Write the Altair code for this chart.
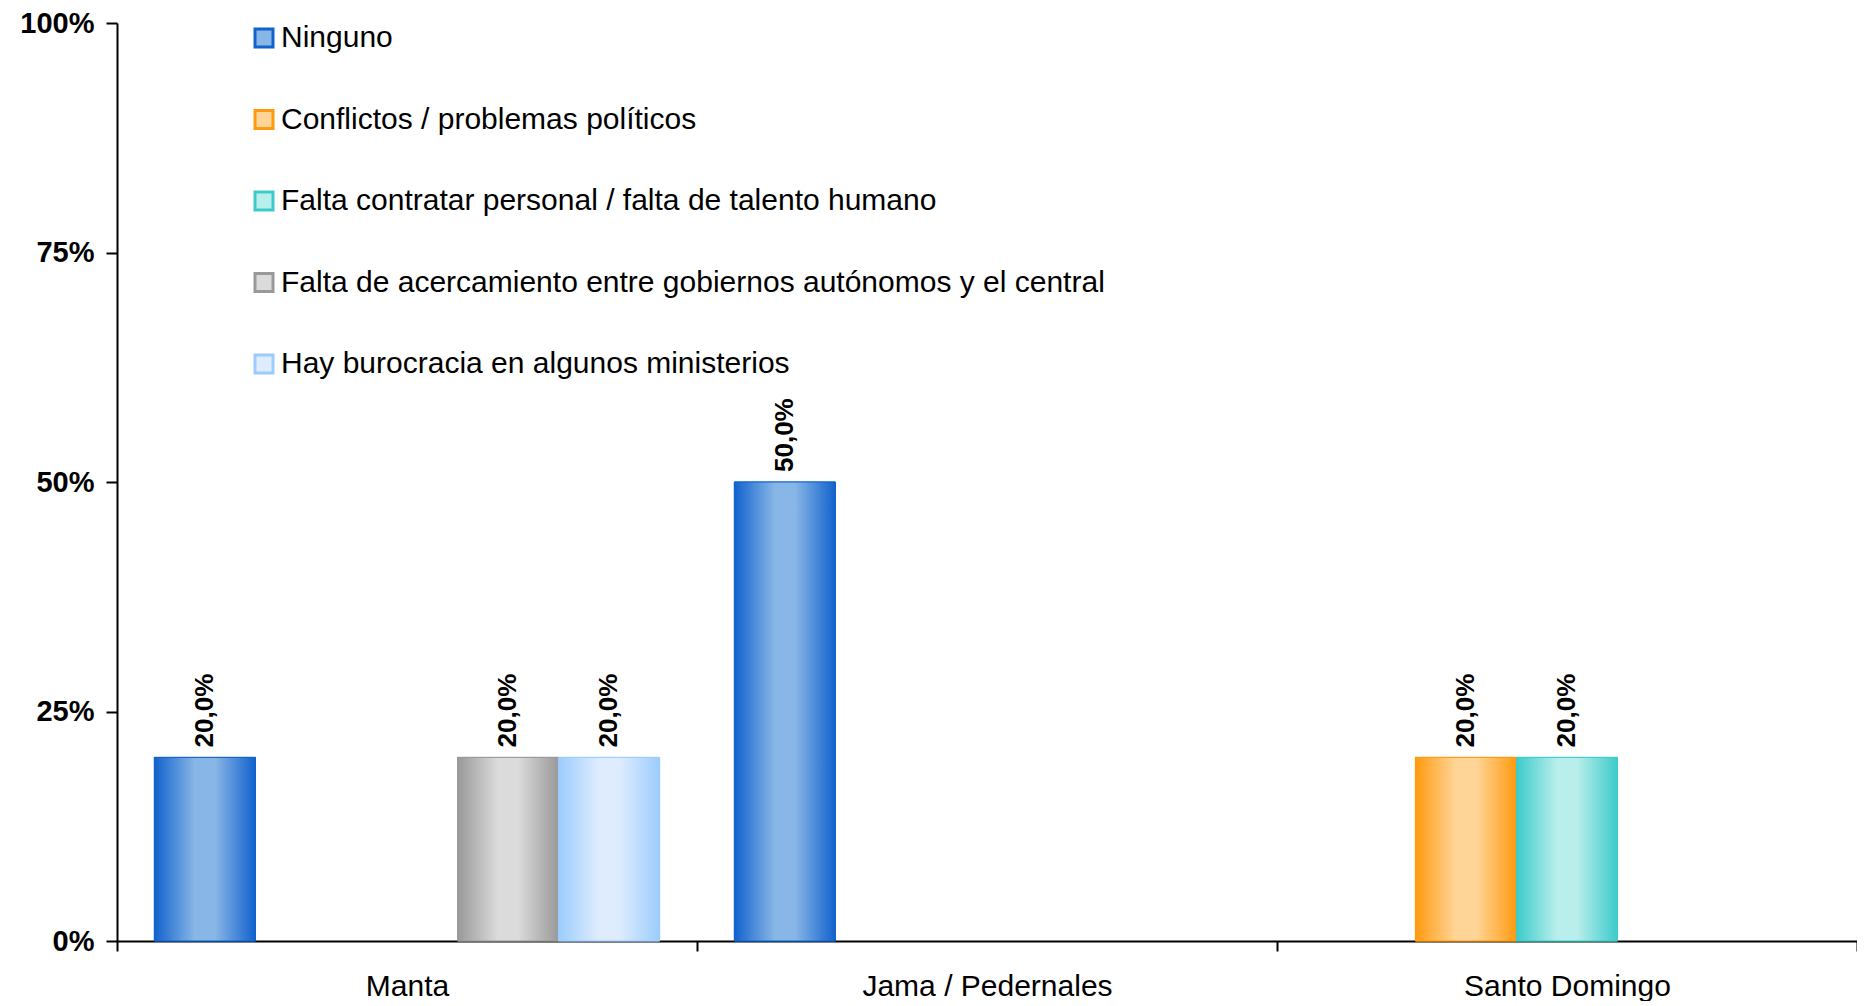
import altair as alt
import pandas as pd

categories = ["Manta", "Jama / Pedernales", "Santo Domingo"]
series = [
    "Ninguno",
    "Conflictos / problemas políticos",
    "Falta contratar personal / falta de talento humano",
    "Falta de acercamiento entre gobiernos autónomos y el central",
    "Hay burocracia en algunos ministerios",
]
# values per series, one per category (Manta, Jama / Pedernales, Santo Domingo)
ninguno = [0.20, 0.50, 0.0]
conflictos = [0.0, 0.0, 0.20]
falta_personal = [0.0, 0.0, 0.20]
falta_acercamiento = [0.20, 0.0, 0.0]
burocracia = [0.20, 0.0, 0.0]
series_values = [ninguno, conflictos, falta_personal, falta_acercamiento, burocracia]

edge_colors = ["#1162CD", "#FF9A0F", "#3CCBCB", "#999999", "#9CCCFD"]
center_colors = ["#88B6E6", "#FFD597", "#B8EEEB", "#DBDBDB", "#DEECFE"]
y_ticks = [0, 0.25, 0.5, 0.75, 1.0]

FONT = "Liberation Sans"

rows = []
for s, vals in zip(series, series_values):
    for c, v in zip(categories, vals):
        rows.append({"cat": c, "series": s, "value": v,
                     "label": f"{v * 100:.1f}%".replace(".", ",")})
df = pd.DataFrame(rows)
df_nz = df[df["value"] > 0]

x_enc = alt.X(
    "cat:N",
    sort=categories,
    scale=alt.Scale(domain=categories, paddingInner=0, paddingOuter=0),
    axis=alt.Axis(
        title=None, labelAngle=0, tickBand="extent", labelFont=FONT,
        labelFontSize=30, labelColor="black", labelPadding=20, labelLimit=1000,
        domainColor="black", domainWidth=2, tickColor="black", tickWidth=2,
        tickSize=10, grid=False,
    ),
)
xo_enc = alt.XOffset(
    "series:N",
    scale=alt.Scale(domain=series, paddingInner=0, paddingOuter=0.37),
)
y_enc = alt.Y(
    "value:Q",
    scale=alt.Scale(domain=[0, 1], nice=False),
    axis=alt.Axis(
        title=None, values=y_ticks, format=".0%", labelFont=FONT,
        labelFontSize=29, labelFontWeight="bold", labelColor="black",
        labelPadding=12, domainColor="black", domainWidth=2,
        tickColor="black", tickWidth=2, tickSize=11, grid=False,
    ),
)

legend = alt.Legend(
    title=None, orient="none", legendX=132, legendY=0,
    labelFont=FONT, labelFontSize=30, labelColor="black", labelOffset=2,
    symbolType="square", symbolSize=324, symbolStrokeWidth=3,
    rowPadding=51.5, labelLimit=1200,
)

base = alt.Chart(df_nz).mark_bar(strokeWidth=1).encode(
    x=x_enc,
    xOffset=xo_enc,
    y=y_enc,
    fill=alt.Fill("series:N", scale=alt.Scale(domain=series, range=center_colors), legend=legend),
    stroke=alt.Stroke("series:N", scale=alt.Scale(domain=series, range=edge_colors), legend=legend),
)

layers = [base]
for s, ec, cc in zip(series, edge_colors, center_colors):
    grad = alt.Gradient(
        gradient="linear", x1=0, x2=1, y1=0, y2=0,
        stops=[
            alt.GradientStop(color=ec, offset=0),
            alt.GradientStop(color=cc, offset=0.4),
            alt.GradientStop(color=cc, offset=0.6),
            alt.GradientStop(color=ec, offset=1),
        ],
    )
    layers.append(
        alt.Chart(df_nz).transform_filter(alt.datum.series == s)
        .mark_bar(color=grad, stroke=ec, strokeWidth=1)
        .encode(x=x_enc, xOffset=xo_enc, y=y_enc)
    )

labels = alt.Chart(df_nz).mark_text(
    angle=270, align="left", baseline="middle", dx=10,
    font=FONT, fontSize=26, fontWeight="bold", color="black",
).encode(x=x_enc, xOffset=xo_enc, y=y_enc, text="label:N")
layers.append(labels)

chart = alt.layer(*layers).properties(
    width=1740, height=918,
    autosize=alt.AutoSizeParams(type="none"),
    padding={"left": 109, "top": 15, "right": 0, "bottom": 60},
).configure(background="white").configure_view(stroke=None)

chart.save("out.html", embed_options={"renderer": "svg", "actions": False})
